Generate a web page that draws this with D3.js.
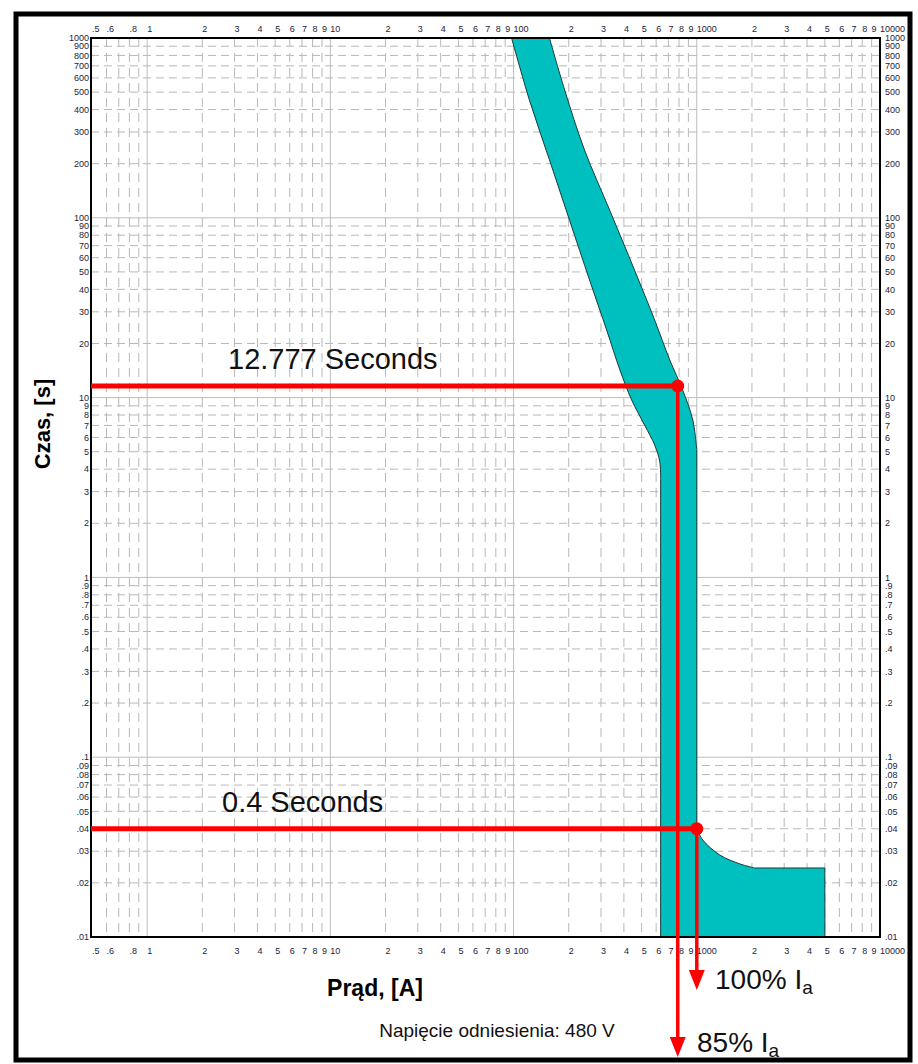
<!DOCTYPE html>
<html><head><meta charset="utf-8">
<script src="https://cdn.jsdelivr.net/npm/d3@7"></script>
<style>html,body{margin:0;padding:0;background:#fff}svg{display:block}</style>
</head><body>
<script>
// ---- data ----
const xTickValues = [0.5,0.6,0.8,1,2,3,4,5,6,7,8,9,10,20,30,40,50,60,70,80,90,100,200,300,400,500,600,700,800,900,1000,2000,3000,4000,5000,6000,7000,8000,9000,10000];
const xTickLabels = [".5",".6",".8","1","2","3","4","5","6","7","8","9","10","2","3","4","5","6","7","8","9","100","2","3","4","5","6","7","8","9","1000","2","3","4","5","6","7","8","9","10000"];
const yTickValues = [0.01,0.02,0.03,0.04,0.05,0.06,0.07,0.08,0.09,0.1,0.2,0.3,0.4,0.5,0.6,0.7,0.8,0.9,1,2,3,4,5,6,7,8,9,10,20,30,40,50,60,70,80,90,100,200,300,400,500,600,700,800,900,1000];
const yTickLabels = [".01",".02",".03",".04",".05",".06",".07",".08",".09",".1",".2",".3",".4",".5",".6",".7",".8",".9","1","2","3","4","5","6","7","8","9","10","20","30","40","50","60","70","80","90","100","200","300","400","500","600","700","800","900","1000"];
const xMajor = [1,10,100,1000];
const yMajor = [0.1,1,10,100];
// band: minimum (left) edge, top to bottom (curved part, then vertical to 0.01)
const bandMinCurrent = [97.5,122,157,202,260,322,380,441,520,589,628,635];
const bandMinTime    = [1000,452,210,97,45,23.8,14.3,9.7,7.0,5.45,4.4,3.5];
const bandBottomTime = 0.01;
// band: maximum (right) edge, top to 5.1 s
const bandMaxCurrent = [157,190,244,335,458,589,712,838,951,1000];
const bandMaxTime    = [1000,514,238,110,51,27,16.2,11.0,7.5,5.1];
// instantaneous region knee, from 0.04 s outward
const kneeCurrent = [1000,1079,1335,1718,2074,5000];
const kneeTime    = [0.04,0.0346,0.0286,0.0255,0.0242,0.0242];
// annotations
const markCurrents = [787, 1000];
const markTimes = [11.6, 0.04];
const markTexts = ["12.777 Seconds", "0.4 Seconds"];
const arrowLabels = ["85%", "100%"];

// ---- layout ----
const W = 918, H = 1064;
const L = 91, R = 880, T = 38, B = 937;
const x = d3.scaleLog().domain([0.5,10000]).range([L + 1, R]);
const y = d3.scaleLog().domain([0.01,1000]).range([B, T]);

const svg = d3.select("body").append("svg").attr("width",W).attr("height",H)
  .style("font-family","'Liberation Sans', Arial, sans-serif");

// outer frame
svg.append("rect").attr("x",16).attr("y",14).attr("width",894).attr("height",1046)
  .attr("fill","#fff").attr("stroke","#000").attr("stroke-width",5);

const g = svg.append("g");
// grid
const vx = xTickValues.concat([0.7,0.9]).filter(v => v > 0.5 && v < 10000);
g.selectAll("line.vg").data(vx).join("line")
  .attr("x1",d=>x(d)).attr("x2",d=>x(d)).attr("y1",T).attr("y2",B)
  .attr("stroke", d=>xMajor.includes(d)?"#bdbdbd":"#b8b8b8")
  .attr("stroke-width",1)
  .attr("stroke-dasharray", d=>xMajor.includes(d)?null:"9,6");
const hy = yTickValues.filter(v => v > 0.01 && v < 1000);
g.selectAll("line.hg").data(hy).join("line")
  .attr("x1",L).attr("x2",R).attr("y1",d=>y(d)).attr("y2",d=>y(d))
  .attr("stroke", d=>yMajor.includes(d)?"#bdbdbd":"#b8b8b8")
  .attr("stroke-width",1)
  .attr("stroke-dasharray", d=>yMajor.includes(d)?null:"8,5");

// band
const smooth = d3.line().curve(d3.curveCatmullRom.alpha(0.5));
const seg = pts => smooth(pts).replace(/^M/, "L");
const minPts = bandMinCurrent.map((c,i)=>[x(c), y(bandMinTime[i])]);
const maxPts = bandMaxCurrent.map((c,i)=>[x(c), y(bandMaxTime[i])]);
const kneePts = kneeCurrent.map((c,i)=>[x(c), y(kneeTime[i])]);
const lastMin = bandMinCurrent[bandMinCurrent.length-1];
let d = smooth(minPts);
d += `L${x(lastMin)},${y(bandBottomTime)}`;
d += `L${x(kneeCurrent[kneeCurrent.length-1])},${y(bandBottomTime)}`;
d += `L${kneePts[kneePts.length-1][0]},${kneePts[kneePts.length-1][1]}`;
d += seg(kneePts.slice(0, kneePts.length-1).reverse());
d += seg(maxPts.slice().reverse());
d += "Z";
svg.append("clipPath").attr("id","pc").append("rect").attr("x",L).attr("y",T).attr("width",R-L).attr("height",B-T);
svg.append("path").attr("d", d).attr("clip-path","url(#pc)")
  .attr("fill","#00bfbf").attr("stroke","#1a3a3a").attr("stroke-width",1);

// plot border
svg.append("rect").attr("x",L).attr("y",T).attr("width",R-L).attr("height",B-T)
  .attr("fill","none").attr("stroke","#000").attr("stroke-width",2);

// tick labels
const fs = 9;
const tcol = "#22243a";
[T-6, B+17].forEach(yy=>{
  svg.append("g").selectAll("text").data(xTickValues).join("text")
    .attr("x",d=>x(d)).attr("y",yy).attr("font-size",fs).attr("fill",tcol)
    .text((d,i)=>xTickLabels[i]);
});
svg.append("g").selectAll("text").data(yTickValues).join("text")
  .attr("x",L-2).attr("y",d=>y(d)+3.2).attr("text-anchor","end").attr("font-size",fs).attr("fill",tcol)
  .text((d,i)=>yTickLabels[i]);
svg.append("g").selectAll("text").data(yTickValues).join("text")
  .attr("x",R+5).attr("y",d=>y(d)+3.2).attr("font-size",fs).attr("fill",tcol)
  .text((d,i)=>yTickLabels[i]);

// annotations
const red = "#ff0000";
const tipY = [1057, 990];
markCurrents.forEach((c,i)=>{
  const px = x(c), py = y(markTimes[i]);
  svg.append("line").attr("x1",L).attr("x2",px).attr("y1",py).attr("y2",py).attr("stroke",red).attr("stroke-width",5);
  svg.append("line").attr("x1",px).attr("x2",px).attr("y1",py).attr("y2",tipY[i]-14).attr("stroke",red).attr("stroke-width",3.5);
  svg.append("path").attr("d",`M${px-8},${tipY[i]-20}L${px+8},${tipY[i]-20}L${px},${tipY[i]}Z`).attr("fill",red);
  svg.append("circle").attr("cx",px).attr("cy",py).attr("r",6.5).attr("fill",red);
});
svg.append("text").attr("x",228).attr("y",369).attr("font-size",29).attr("fill","#111").text(markTexts[0]);
svg.append("text").attr("x",222).attr("y",812).attr("font-size",29).attr("fill","#111").text(markTexts[1]);

function ia(tx, ty, pct){
  const t = svg.append("text").attr("x",tx).attr("y",ty).attr("font-size",28).attr("fill","#111");
  t.append("tspan").text(pct+" I");
  t.append("tspan").attr("font-size",19).attr("dy",5).text("a");
}
ia(715, 989, arrowLabels[1]);
ia(697, 1052, arrowLabels[0]);

// axis titles
svg.append("text").attr("x",375).attr("y",996).attr("text-anchor","middle").attr("font-size",23).attr("font-weight","bold").text("Prąd, [A]");
svg.append("text").attr("transform","translate(50,424) rotate(-90)").attr("text-anchor","middle").attr("font-size",22).attr("font-weight","bold").text("Czas, [s]");
svg.append("text").attr("x",497).attr("y",1037).attr("text-anchor","middle").attr("font-size",19).attr("fill","#111").text("Napięcie odniesienia: 480 V");
</script>
</body></html>
